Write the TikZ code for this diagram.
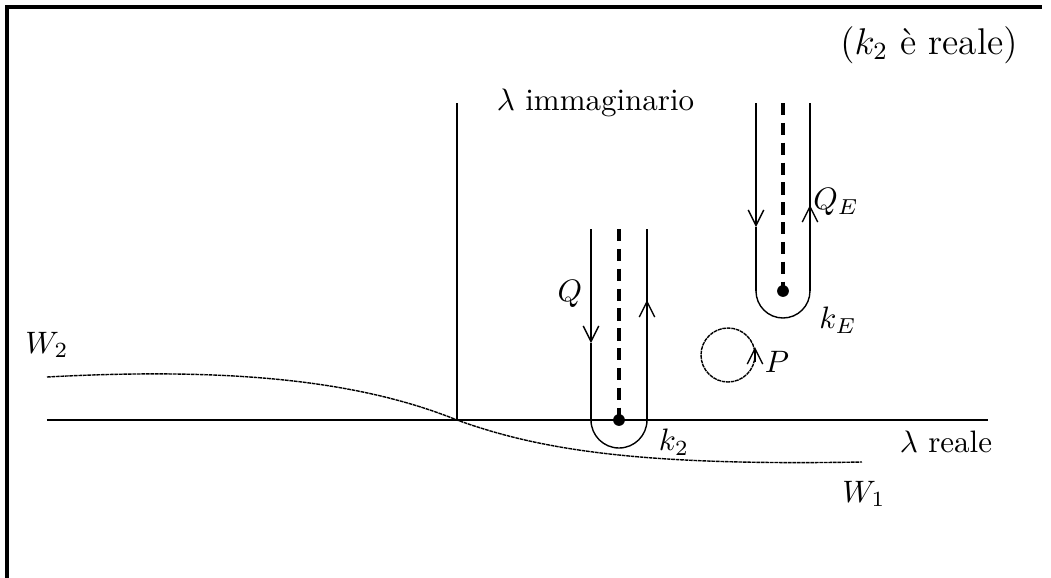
\documentclass[tikz,border=0pt]{standalone}
\usetikzlibrary{arrows.meta}
\begin{document}
\begin{tikzpicture}[
    x=0.01134cm, y=-0.01134cm,
    frame/.style={line width=1.2pt},
    axis/.style={line width=0.8pt},
    cut/.style={line width=1pt, dash pattern=on 4pt off 2.4pt},
    wall/.style={line width=0.8pt},
    loop/.style={line width=0.45pt, dash pattern=on 1.2pt off 0.25pt},
    flow/.style={-{Straight Barb[length=5pt,width=5pt,line width=0.45pt]}},
    >=stealth
]
\useasboundingbox (0,0) rectangle (1051,578);

% Cornice
\coordinate (c0) at (7,7);
\coordinate (c1) at (1042,7);
\coordinate (c2) at (7,578);
\draw[frame] (c1) -- (c0) -- (c2);

% Assi
\coordinate (o) at (457,420);
\coordinate (xl) at (47,420);
\coordinate (xr) at (988,420);
\coordinate (yt) at (457,103);
\draw[axis] (xl) -- (xr);
\draw[axis] (o) -- (yt);

% Curva W
\coordinate (w2) at (47,377);
\coordinate (w1) at (862,462);
\draw[loop] (w2) .. controls (250,366) and (370,385) .. (o)
    .. controls (540,450) and (640,466) .. (w1);

% Contorno Q intorno a k2
\coordinate (k2) at (619,420);
\coordinate (qa) at (591,229);
\coordinate (qb) at (591,343);
\coordinate (qc) at (591,420);
\coordinate (qd) at (647,420);
\coordinate (qe) at (647,300);
\coordinate (qf) at (647,229);
\coordinate (qt) at (619,229);
\draw[cut] (qt) -- (k2);
\draw[wall,flow] (qa) -- (qb);
\draw[wall] (qb) -- (qc);
\draw[wall] (qd) -- (qf);
\draw[wall,flow] (qd) -- (qe);
\draw[line width=0.45pt] (qc) arc[start angle=180, end angle=0, radius=28];
\fill (k2) circle (1.9pt);

% Contorno Q_E intorno a k_E
\coordinate (kE) at (783,291);
\coordinate (ea) at (756,103);
\coordinate (eb) at (756,227);
\coordinate (ec) at (756,291);
\coordinate (ed) at (810,291);
\coordinate (ee) at (810,205);
\coordinate (ef) at (810,103);
\coordinate (et) at (783,103);
\draw[cut] (et) -- (kE);
\draw[wall,flow] (ea) -- (eb);
\draw[wall] (eb) -- (ec);
\draw[wall] (ed) -- (ef);
\draw[wall,flow] (ed) -- (ee);
\draw[line width=0.45pt] (ec) arc[start angle=180, end angle=0, radius=27];
\fill (kE) circle (1.9pt);

% Cerchio P
\coordinate (pc) at (728,355);
\coordinate (pa) at (755,362);
\coordinate (pb) at (755,347);
\draw[loop] (pc) circle (27);
\draw[line width=0.45pt,flow] (pa) -- (pb);

% Etichette
\node (nota) at (929,45) {\large $(k_2$ \`e reale$)$};
\node[anchor=west] (imm) at (486,103) {$\lambda$ immaginario};
\node (reale) at (946,442) {$\lambda$ reale};
\node (lQ) at (570,294) {$Q$};
\node (lk2) at (674,442) {$k_2$};
\node (lQE) at (836,202) {$Q_E$};
\node (lkE) at (838,320) {$k_E$};
\node (lP) at (777,362) {$P$};
\node (lW1) at (864,494) {$W_1$};
\node (lW2) at (47,345) {$W_2$};

\end{tikzpicture}
\end{document}
